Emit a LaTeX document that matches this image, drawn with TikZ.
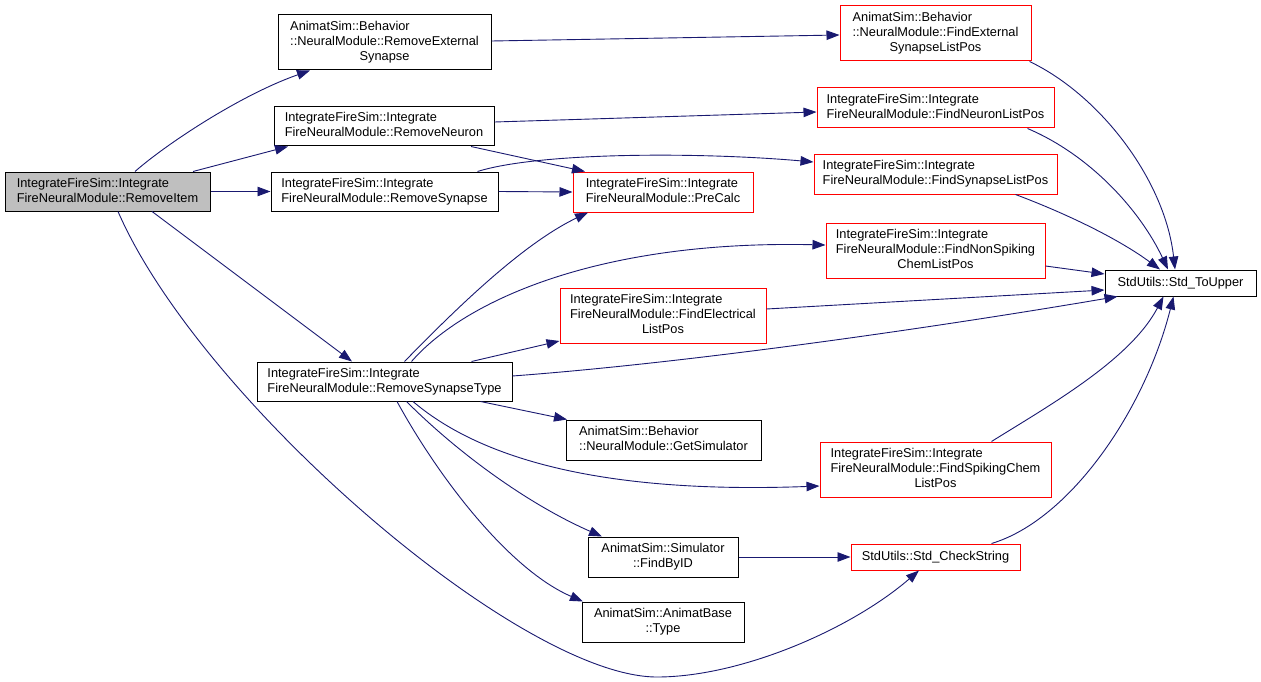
\documentclass[tikz,border=0pt]{standalone}
\usepackage{fontspec}
\setmainfont{Liberation Sans}
\usetikzlibrary{arrows.meta}
\definecolor{edgeblue}{HTML}{191970}
\definecolor{boxred}{HTML}{FF0000}
\definecolor{rootgray}{HTML}{BFBFBF}
\newcommand{\dlab}[2]{\begin{tabular}{@{}l@{}}#1\\\multicolumn{1}{@{}c@{}}{#2}\end{tabular}}
\tikzset{
  fnbox/.style={draw=black, line width=1pt, inner sep=0pt, font=\fontsize{12.8}{15}\selectfont},
  redbox/.style={fnbox, draw=boxred},
  rootbox/.style={fnbox, fill=rootgray},
  calledge/.style={draw=edgeblue, line width=0.9pt, -{Triangle[length=13pt,width=9.5pt]}}
}
\begin{document}
\begin{tikzpicture}[x=1pt,y=-1pt]
\useasboundingbox (0,0) rectangle (1261,682);
% nodes
\node[rootbox, minimum width=205pt, minimum height=39pt] (ri) at (107.5,191.5) {\dlab{IntegrateFireSim::Integrate}{FireNeuralModule::RemoveItem}};
\node[fnbox, minimum width=213pt, minimum height=55pt] (res) at (384.5,42.5) {\dlab{AnimatSim::Behavior\\::NeuralModule::RemoveExternal}{Synapse}};
\node[fnbox, minimum width=220pt, minimum height=39pt] (rn) at (384,126.5) {\dlab{IntegrateFireSim::Integrate}{FireNeuralModule::RemoveNeuron}};
\node[fnbox, minimum width=227pt, minimum height=39pt] (rs) at (384.5,191.5) {\dlab{IntegrateFireSim::Integrate}{FireNeuralModule::RemoveSynapse}};
\node[fnbox, minimum width=255pt, minimum height=39pt] (rst) at (384.5,381.5) {\dlab{IntegrateFireSim::Integrate}{FireNeuralModule::RemoveSynapseType}};
\node[redbox, minimum width=180pt, minimum height=40pt] (pc) at (663,192) {\dlab{IntegrateFireSim::Integrate}{FireNeuralModule::PreCalc}};
\node[redbox, minimum width=191pt, minimum height=55pt] (fes) at (935.5,33.5) {\dlab{AnimatSim::Behavior\\::NeuralModule::FindExternal}{SynapseListPos}};
\node[redbox, minimum width=237pt, minimum height=40pt] (fn) at (935.5,108) {\dlab{IntegrateFireSim::Integrate}{FireNeuralModule::FindNeuronListPos}};
\node[redbox, minimum width=243pt, minimum height=39pt] (fs) at (935.5,174.5) {\dlab{IntegrateFireSim::Integrate}{FireNeuralModule::FindSynapseListPos}};
\node[redbox, minimum width=219pt, minimum height=55pt] (fnsc) at (935.5,250.5) {\dlab{IntegrateFireSim::Integrate\\FireNeuralModule::FindNonSpiking}{ChemListPos}};
\node[redbox, minimum width=206pt, minimum height=55pt] (fel) at (663,315.5) {\dlab{IntegrateFireSim::Integrate\\FireNeuralModule::FindElectrical}{ListPos}};
\node[fnbox, minimum width=195pt, minimum height=40pt] (gs) at (663.5,440) {\dlab{AnimatSim::Behavior}{::NeuralModule::GetSimulator}};
\node[redbox, minimum width=231pt, minimum height=55pt] (fsc) at (935.5,469.5) {\dlab{IntegrateFireSim::Integrate\\FireNeuralModule::FindSpikingChem}{ListPos}};
\node[fnbox, minimum width=150pt, minimum height=40pt] (fid) at (663,557) {\dlab{AnimatSim::Simulator}{::FindByID}};
\node[fnbox, minimum width=162pt, minimum height=40pt] (ty) at (663,622) {\dlab{AnimatSim::AnimatBase}{::Type}};
\node[redbox, minimum width=169pt, minimum height=26pt] (cs) at (935.5,557) {StdUtils::Std\_CheckString};
\node[fnbox, minimum width=151pt, minimum height=26pt] (tu) at (1180.5,283) {StdUtils::Std\_ToUpper};
% edges from RemoveItem
\draw[calledge] ([xshift=27.5pt]ri.north) .. controls (165,145) and (240,95) .. ([xshift=-74.5pt]res.south);
\draw[calledge] ([xshift=85.5pt]ri.north) -- ([xshift=-96pt]rn.south);
\draw[calledge] (ri.east) -- (rs.west);
\draw[calledge] ([xshift=44.5pt]ri.south) -- ([xshift=-32.5pt]rst.north);
\draw[calledge] ([xshift=10.5pt]ri.south) .. controls (200,400) and (520,677) .. (657,677) .. controls (740,677) and (850,630) .. ([xshift=-16.5pt]cs.south);
% RemoveExternalSynapse
\draw[calledge] ([yshift=1.5pt]res.east) -- ([yshift=-1.5pt]fes.west);
% RemoveNeuron
\draw[calledge] ([yshift=4.5pt]rn.east) -- ([yshift=-4pt]fn.west);
\draw[calledge] ([xshift=87pt]rn.south) -- ([xshift=-78pt]pc.north);
% RemoveSynapse
\draw[calledge] (rs.east) -- (pc.west);
\draw[calledge] ([xshift=93pt]rs.north) .. controls (540,152) and (700,152) .. ([yshift=12.5pt]fs.west);
% RemoveSynapseType
\draw[calledge] ([xshift=20pt]rst.north) .. controls (450,315) and (520,245) .. ([xshift=-75pt]pc.south);
\draw[calledge] ([xshift=27pt]rst.north) .. controls (465,300) and (600,240) .. ([yshift=5.5pt]fnsc.west);
\draw[calledge] ([xshift=87pt]rst.north) -- ([yshift=-25.5pt]fel.west);
\draw[calledge] ([yshift=5.5pt]rst.east) .. controls (700,362) and (950,325) .. ([xshift=13pt]tu.south west);
\draw[calledge] ([xshift=96pt]rst.south) -- ([xshift=-96.5pt]gs.north);
\draw[calledge] ([xshift=28.5pt]rst.south) .. controls (470,450) and (580,495) .. ([yshift=-16.5pt]fsc.west);
\draw[calledge] ([xshift=22pt]rst.south) .. controls (460,455) and (530,505) .. ([xshift=-61pt]fid.north);
\draw[calledge] ([xshift=12.5pt]rst.south) .. controls (440,480) and (510,570) .. ([xshift=-80pt]ty.north);
% FindByID
\draw[calledge] (fid.east) -- (cs.west);
% into Std_ToUpper
\draw[calledge] ([xshift=-2pt]fes.south east) .. controls (1100,95) and (1165,180) .. ([xshift=-5.5pt]tu.north);
\draw[calledge] ([xshift=-27pt]fn.south east) .. controls (1090,155) and (1140,210) .. ([xshift=-12.5pt]tu.north);
\draw[calledge] ([xshift=-42pt]fs.south east) .. controls (1070,215) and (1120,240) .. ([xshift=-20.5pt]tu.north);
\draw[calledge] ([yshift=-15.5pt]fnsc.east) -- ([yshift=9pt]tu.west);
\draw[calledge] ([yshift=6.5pt]fel.east) -- ([yshift=-7pt]tu.west);
\draw[calledge] ([xshift=56pt]fsc.north) .. controls (1050,405) and (1130,360) .. ([xshift=-17pt]tu.south);
\draw[calledge] ([xshift=56pt]cs.north) .. controls (1070,520) and (1145,410) .. ([xshift=-7pt]tu.south);
\end{tikzpicture}
\end{document}
